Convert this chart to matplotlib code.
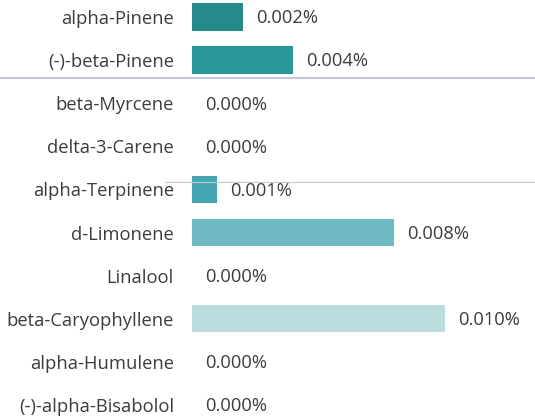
import matplotlib.pyplot as plt
from matplotlib.lines import Line2D

terpenes = ['alpha-Pinene', '(-)-beta-Pinene', 'beta-Myrcene', 'delta-3-Carene',
            'alpha-Terpinene', 'd-Limonene', 'Linalool', 'beta-Caryophyllene',
            'alpha-Humulene', '(-)-alpha-Bisabolol']
percent = [0.002, 0.004, 0.000, 0.000, 0.001, 0.008, 0.000, 0.010, 0.000, 0.000]
bar_colors = ['#268a8a', '#2a9898', '#2a9898', '#2a9898', '#45a6b2',
              '#6fbac2', '#6fbac2', '#bcdde0', '#bcdde0', '#bcdde0']

W, H = 535, 418
fig = plt.figure(figsize=(W / 100, H / 100), dpi=100)
ax = fig.add_axes([192 / W, 0, (W - 192) / W, 1])

ypos = list(range(len(terpenes)))
ax.barh(ypos, percent, height=0.64, color=bar_colors)

# pixel scale: ~25.3 px per 0.001%
ax.set_xlim(0, (W - 192) / 25300)
ax.set_ylim((H - 17) / 43.1, -17 / 43.1)

ax.set_yticks(ypos)
ax.set_yticklabels(terpenes, fontsize=13.2, color='#3c3c3c', family='Open Sans')
ax.tick_params(axis='y', length=0, pad=13)
ax.set_xticks([])
for s in ax.spines.values():
    s.set_visible(False)

for y, v in zip(ypos, percent):
    ax.annotate(f'{v:.3f}%', (v, y), xytext=(9.5, -1), textcoords='offset points',
                va='center', ha='left', fontsize=13.2, color='#3c3c3c', family='Open Sans')

# faint scan lines across the page
fig.add_artist(Line2D([0, 1], [1 - 78 / H, 1 - 78 / H], color='#c4c6da', lw=1.5,
                      transform=fig.transFigure))
fig.add_artist(Line2D([165 / W, 1], [1 - 182 / H, 1 - 182 / H], color='#c8c8c8', lw=0.8,
                      transform=fig.transFigure))

fig.savefig('out.png', dpi=100)
